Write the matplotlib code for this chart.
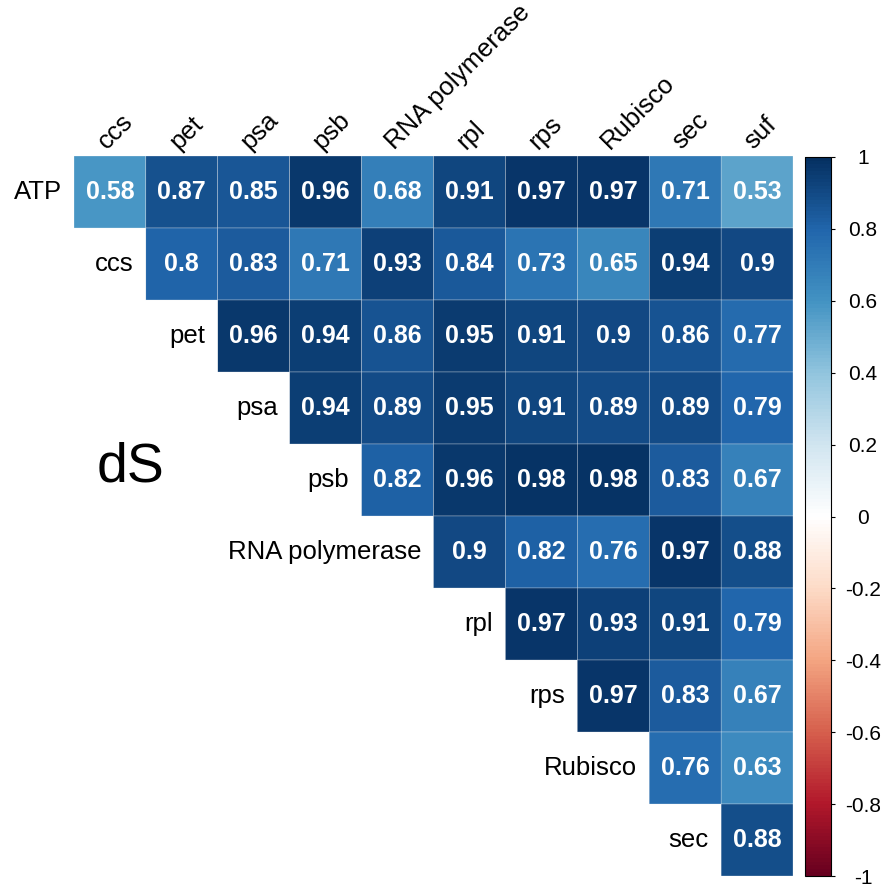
import numpy as np
import matplotlib.pyplot as plt
from matplotlib.colors import LinearSegmentedColormap

plt.rcParams['font.family'] = ['Liberation Sans', 'DejaVu Sans']

row_names = ["ATP", "ccs", "pet", "psa", "psb", "RNA polymerase", "rpl", "rps", "Rubisco", "sec"]
col_names = ["ccs", "pet", "psa", "psb", "RNA polymerase", "rpl", "rps", "Rubisco", "sec", "suf"]

# upper triangle of the dS correlation matrix, one list per row
r_atp = [0.58, 0.87, 0.85, 0.96, 0.68, 0.91, 0.97, 0.97, 0.71, 0.53]
r_ccs = [0.8, 0.83, 0.71, 0.93, 0.84, 0.73, 0.65, 0.94, 0.9]
r_pet = [0.96, 0.94, 0.86, 0.95, 0.91, 0.9, 0.86, 0.77]
r_psa = [0.94, 0.89, 0.95, 0.91, 0.89, 0.89, 0.79]
r_psb = [0.82, 0.96, 0.98, 0.98, 0.83, 0.67]
r_rnap = [0.9, 0.82, 0.76, 0.97, 0.88]
r_rpl = [0.97, 0.93, 0.91, 0.79]
r_rps = [0.97, 0.83, 0.67]
r_rub = [0.76, 0.63]
r_sec = [0.88]
rows = [r_atp, r_ccs, r_pet, r_psa, r_psb, r_rnap, r_rpl, r_rps, r_rub, r_sec]

cb_ticks = [-1, -0.8, -0.6, -0.4, -0.2, 0, 0.2, 0.4, 0.6, 0.8, 1]

n = len(col_names)
mat = np.full((n, n), np.nan)
for i, r in enumerate(rows):
    mat[i, i:] = r

col2 = ["#67001F", "#B2182B", "#D6604D", "#F4A582", "#FDDBC7", "#FFFFFF",
        "#D1E5F0", "#92C5DE", "#4393C3", "#2166AC", "#053061"]
cmap = LinearSegmentedColormap.from_list("col2", col2, N=200)

fig = plt.figure(figsize=(8.85, 8.86), dpi=100)
W, H = 885, 886
ax = fig.add_axes([74 / W, 10 / H, 719 / W, 720 / H])
# pcolor skips masked cells, so the empty lower triangle gets no edges
mesh = ax.pcolor(np.ma.masked_invalid(mat), cmap=cmap, vmin=-1, vmax=1,
                 edgecolor="#f4f4f4", linewidth=0.2)
ax.set_xlim(0, n)
ax.set_ylim(n, 0)
ax.axis("off")

for i in range(n):
    for j in range(i, n):
        ax.text(j + 0.5, i + 0.5, "%g" % mat[i, j], ha="center", va="center",
                color="white", fontsize=18, fontweight="bold")
    ax.text(i - 0.17, i + 0.5, row_names[i], ha="right", va="center",
            fontsize=18.5, color="black")

for j in range(n):
    ax.text(j + 0.5, -0.03, col_names[j], ha="left", va="bottom", rotation=45,
            rotation_mode="anchor", fontsize=18.5, color="black")

ax.text(0.79, 4.33, "dS", ha="center", va="center", fontsize=40)

cax = fig.add_axes([805 / W, 10 / H, 26 / W, 719 / H])
cb = fig.colorbar(mesh, cax=cax, ticks=cb_ticks)
cb.ax.set_yticklabels(["%g" % t for t in cb_ticks])
cb.ax.tick_params(labelsize=15, length=3, width=0.8, pad=20)
for lab in cb.ax.get_yticklabels():
    lab.set_horizontalalignment("center")
cb.outline.set_linewidth(0.8)

fig.savefig("out.png", dpi=100)
